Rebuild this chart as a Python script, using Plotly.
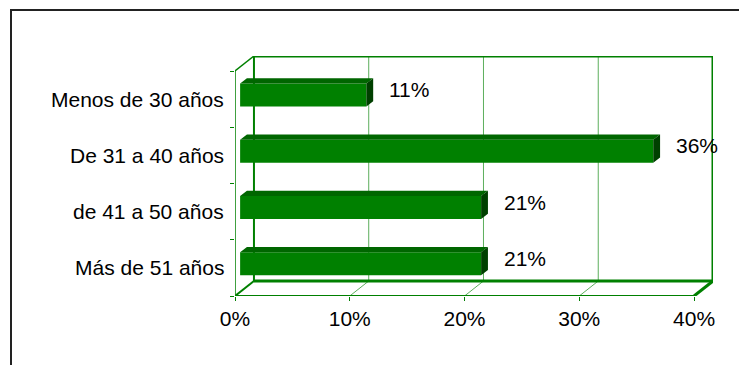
import plotly.graph_objects as go

# ---- data ----
categories = ["Más de 51 años", "de 41 a 50 años", "De 31 a 40 años", "Menos de 30 años"]
values = [21, 21, 36, 11]
x_ticks = [0, 10, 20, 30, 40]
x_tick_labels = ["0%", "10%", "20%", "30%", "40%"]

# ---- 3D look parameters (in data units) ----
XMAX = 40
DX = 1.652      # depth offset along x (percent units)
DY = 0.2667     # depth offset along y (category units)
D0, D1 = 0.27, 0.63   # bar front/back depth fraction
BW = 0.41       # bar thickness

GREEN = "#008000"
TOP = "#006600"
SIDE = "#004000"
GRID = "#5cae5c"
FONT = "Liberation Sans, Arial, sans-serif"

n = len(categories)
ys = list(range(n))
ybot = -0.5
ytop_front = n - 0.5

fig = go.Figure()

# front faces of bars
fig.add_trace(go.Bar(
    orientation="h",
    x=values,
    y=[y + D0 * DY for y in ys],
    base=[D0 * DX] * n,
    width=BW,
    marker=dict(color=GREEN, line=dict(width=0)),
    hoverinfo="skip",
    showlegend=False,
))

# top and side faces
tx, ty, sx, sy = [], [], [], []
ddx = (D1 - D0) * DX
ddy = (D1 - D0) * DY
for y, v in zip(ys, values):
    x0 = D0 * DX
    yc = y + D0 * DY
    yt = yc + BW / 2
    yb = yc - BW / 2
    tx += [x0, x0 + v, x0 + v + ddx, x0 + ddx, x0, None]
    ty += [yt, yt, yt + ddy, yt + ddy, yt, None]
    sx += [x0 + v, x0 + v, x0 + v + ddx, x0 + v + ddx, x0 + v, None]
    sy += [yb, yt, yt + ddy, yb + ddy, yb, None]

fig.add_trace(go.Scatter(x=tx, y=ty, fill="toself", fillcolor=TOP, mode="lines",
                         line=dict(width=0, color=TOP), hoverinfo="skip", showlegend=False))
fig.add_trace(go.Scatter(x=sx, y=sy, fill="toself", fillcolor=SIDE, mode="lines",
                         line=dict(width=0, color=SIDE), hoverinfo="skip", showlegend=False))

shapes = []
def line(x0, y0, x1, y1, color, w):
    shapes.append(dict(type="line", xref="x", yref="y", x0=x0, y0=y0, x1=x1, y1=y1,
                       line=dict(color=color, width=w), layer="below"))

# back wall gridlines and floor diagonals
for t in x_ticks[1:-1]:
    line(t + DX, ybot + DY, t + DX, ytop_front + DY, GRID, 1)
    line(t, ybot, t + DX, ybot + DY, GRID, 1)
# back wall frame
line(DX, ybot + DY, DX, ytop_front + DY, GREEN, 2)
line(DX, ytop_front + DY, XMAX + DX, ytop_front + DY, GREEN, 3)
line(XMAX + DX, ytop_front + DY, XMAX + DX, ybot + DY, GREEN, 3)
line(DX, ybot + DY, XMAX + DX, ybot + DY, GREEN, 3)
# floor front edge and diagonals at ends
line(0, ybot, XMAX, ybot, GREEN, 2)
line(0, ybot, DX, ybot + DY, GREEN, 2)
line(XMAX, ybot, XMAX + DX, ybot + DY, GREEN, 3)
# left wall
line(0, ybot, 0, ytop_front, GREEN, 1.5)
line(0, ytop_front, DX, ytop_front + DY, GREEN, 1.5)

# outer chart border
L, T, W, H = 235, 56, 478, 240
shapes.append(dict(type="rect", xref="paper", yref="paper",
                   x0=(11 - L) / W, x1=(760 - L) / W,
                   y0=1 - (390 - T) / H, y1=1 - (10 - T) / H,
                   line=dict(color="#222222", width=2), layer="below"))

annotations = []
# category labels
for y, c in zip(ys, categories):
    annotations.append(dict(x=0, y=y, xref="paper", yref="y", text=c, showarrow=False,
                            xanchor="right", yanchor="middle", xshift=-9,
                            font=dict(family=FONT, size=21, color="#000000")))
# value labels
for y, v in zip(ys, values):
    annotations.append(dict(x=v, y=y + D1 * DY, xref="x", yref="y", text=f"{v}%",
                            showarrow=False, xanchor="left", yanchor="middle", xshift=26,
                            font=dict(family=FONT, size=21, color="#000000")))

fig.update_layout(
    width=739, height=365,
    margin=dict(l=L, r=739 - L - W, t=T, b=365 - T - H),
    paper_bgcolor="white", plot_bgcolor="rgba(0,0,0,0)",
    xaxis=dict(range=[0, XMAX + DX], tickvals=x_ticks, ticktext=x_tick_labels,
               showgrid=False, zeroline=False, showline=False,
               ticks="outside", ticklen=4, tickcolor=GREEN, tickwidth=1,
               tickfont=dict(family=FONT, size=21, color="#000000")),
    yaxis=dict(range=[ybot, ytop_front + DY],
               tickvals=[y - 0.5 for y in ys] + [ytop_front], ticktext=[""] * (n + 1),
               showgrid=False, zeroline=False, showline=False,
               ticks="outside", ticklen=4, tickcolor=GREEN, tickwidth=1),
    shapes=shapes, annotations=annotations,
    showlegend=False,
)

fig.write_html("out.html")
